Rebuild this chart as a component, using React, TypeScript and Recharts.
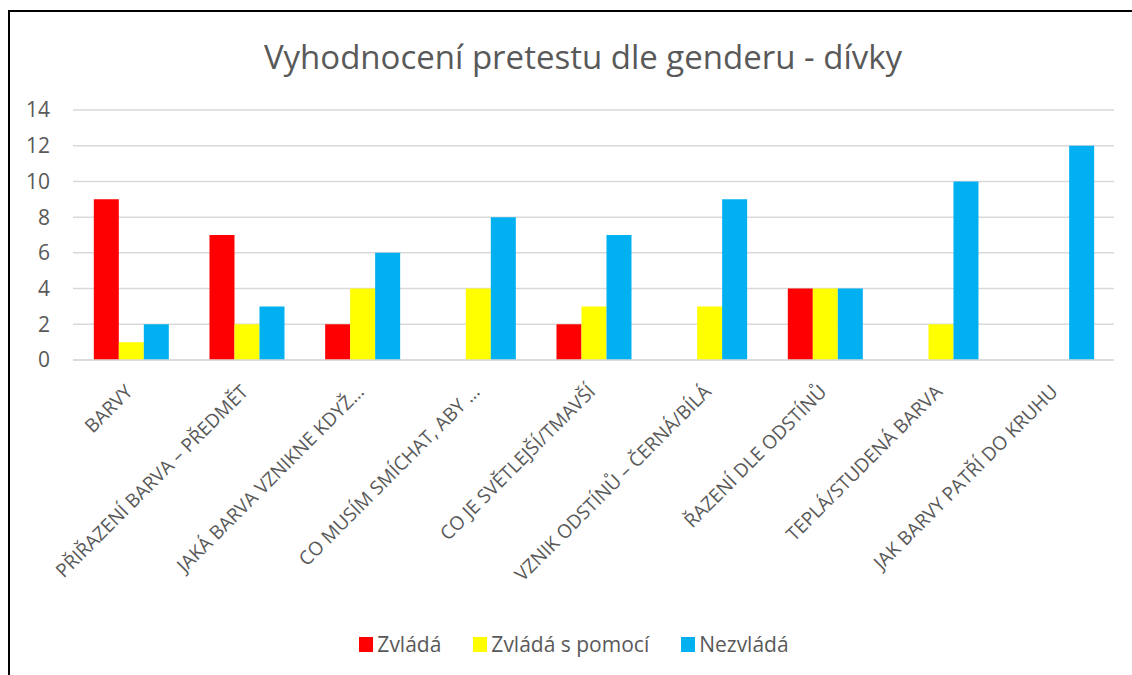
import { Bar, BarChart, CartesianGrid, Legend, XAxis, YAxis } from 'recharts'

const categories = [
  'BARVY',
  'PŘIŘAZENÍ BARVA – PŘEDMĚT',
  'JAKÁ BARVA VZNIKNE KDYŽ…',
  'CO MUSÍM SMÍCHAT, ABY …',
  'CO JE SVĚTLEJŠÍ/TMAVŠÍ',
  'VZNIK ODSTÍNŮ – ČERNÁ/BÍLÁ',
  'ŘAZENÍ DLE ODSTÍNŮ',
  'TEPLÁ/STUDENÁ BARVA',
  'JAK BARVY PATŘÍ DO KRUHU',
]
const zvlada = [9, 7, 2, 0, 2, 0, 4, 0, 0]
const sPomoci = [1, 2, 4, 4, 3, 3, 4, 2, 0]
const nezvlada = [2, 3, 6, 8, 7, 9, 4, 10, 12]
const yTicks = [0, 2, 4, 6, 8, 10, 12, 14]

const series = [
  { key: 'zvlada', name: 'Zvládá', color: '#ff0000' },
  { key: 'sPomoci', name: 'Zvládá s pomocí', color: '#ffff00' },
  { key: 'nezvlada', name: 'Nezvládá', color: '#00b0f0' },
]

const data = categories.map((label, i) => ({
  label,
  zvlada: zvlada[i],
  sPomoci: sPomoci[i],
  nezvlada: nezvlada[i],
}))

const FONT = '"Open Sans", sans-serif'
const GREY = '#595959'

function CategoryTick({ x, y, payload }: { x?: number; y?: number; payload?: { value: string } }) {
  const tx = Number(x) + 3
  const ty = Number(y) + 25
  return (
    <text
      x={tx}
      y={ty}
      transform={`rotate(-45, ${tx}, ${ty})`}
      textAnchor="end"
      fontSize={19}
      fontFamily={FONT}
      fill={GREY}
    >
      {payload?.value}
    </text>
  )
}

function LegendContent() {
  return (
    <div style={{ display: 'flex', justifyContent: 'center', gap: 32, paddingTop: 30, paddingLeft: 34 }}>
      {series.map((s) => (
        <div key={s.key} style={{ display: 'flex', alignItems: 'center', fontFamily: FONT, fontSize: 21, color: GREY }}>
          <span style={{ width: 14, height: 15, background: s.color, marginRight: 4, display: 'inline-block' }} />
          {s.name}
        </div>
      ))}
    </div>
  )
}

export default function App() {
  return (
    <div style={{ position: 'fixed', left: 0, top: 0, width: 1132, height: 675, background: '#fff', overflow: 'hidden' }}>
      <div
        style={{
          position: 'absolute',
          left: 8,
          top: 10,
          width: 1200,
          height: 700,
          borderLeft: '2px solid #000',
          borderTop: '2px solid #000',
        }}
      />
      <div
        style={{
          position: 'absolute',
          left: 20,
          width: 1126,
          top: 34,
          textAlign: 'center',
          fontFamily: FONT,
          fontSize: 33,
          color: GREY,
        }}
      >
        Vyhodnocení pretestu dle genderu - dívky
      </div>
      <div style={{ position: 'absolute', left: 0, top: 0 }}>
        <BarChart
          width={1132}
          height={675}
          data={data}
          margin={{ top: 110, right: 18, left: 0, bottom: 0 }}
          barCategoryGap="18%"
          barGap={0}
        >
          <CartesianGrid vertical={false} stroke="#d9d9d9" strokeWidth={1.5} />
          <XAxis
            dataKey="label"
            interval={0}
            height={240}
            tickLine={false}
            axisLine={{ stroke: '#d9d9d9', strokeWidth: 1.5 }}
            tick={<CategoryTick />}
          />
          <YAxis
            width={73}
            domain={[0, 14]}
            ticks={yTicks}
            axisLine={false}
            tickLine={false}
            tickSize={0}
            tickMargin={23}
            tick={{ fontSize: 21, fontFamily: FONT, fill: GREY }}
          />
          <Legend verticalAlign="bottom" height={75} content={<LegendContent />} />
          {series.map((s) => (
            <Bar key={s.key} dataKey={s.key} name={s.name} fill={s.color} isAnimationActive={false} />
          ))}
        </BarChart>
      </div>
    </div>
  )
}
